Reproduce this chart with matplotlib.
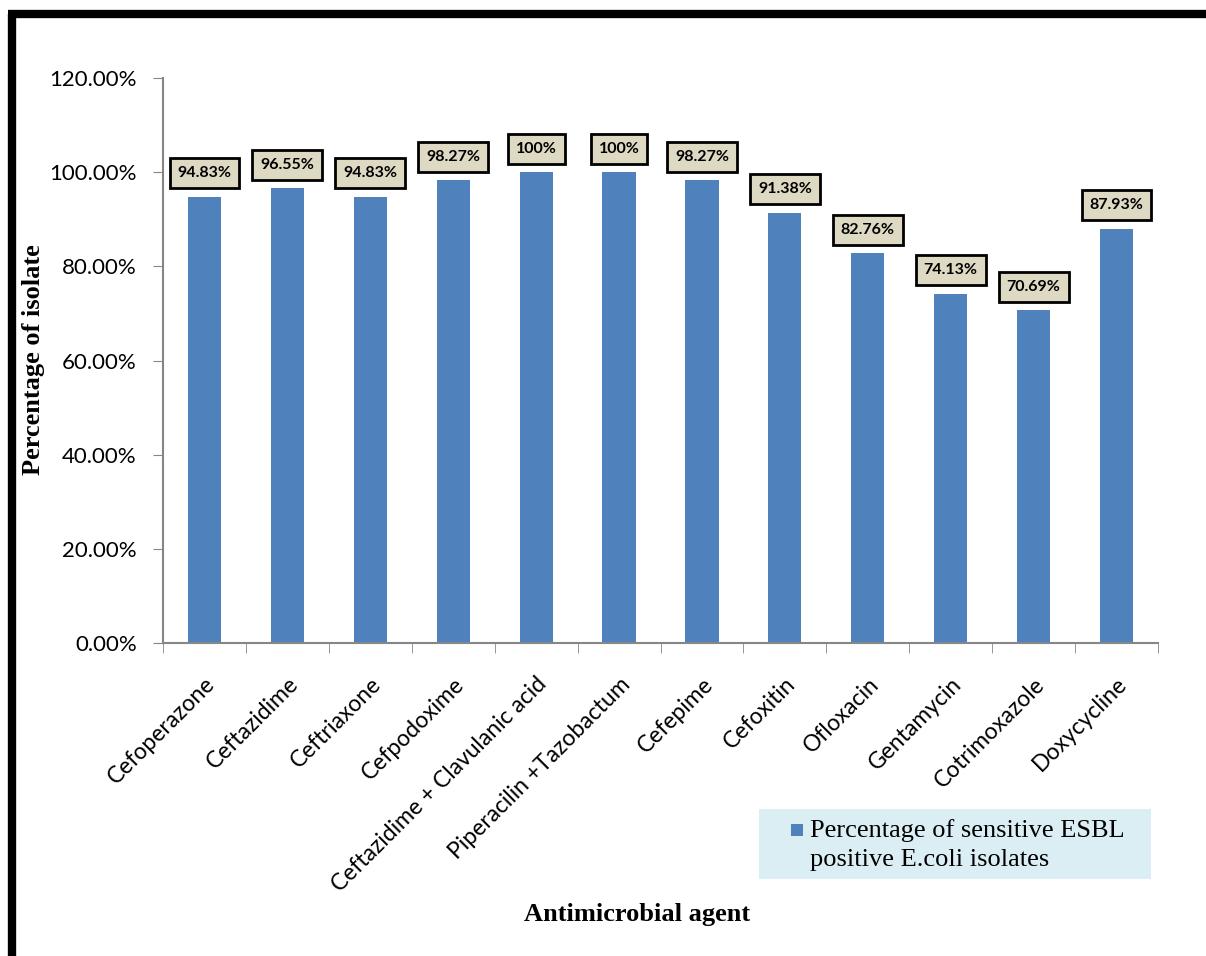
import matplotlib.pyplot as plt
from matplotlib.lines import Line2D
from matplotlib.patches import Rectangle
import numpy as np

agents = ["Cefoperazone", "Ceftazidime", "Ceftriaxone", "Cefpodoxime",
          "Ceftazidime + Clavulanic acid", "Piperacilin +Tazobactum",
          "Cefepime", "Cefoxitin", "Ofloxacin", "Gentamycin",
          "Cotrimoxazole", "Doxycycline"]
sensitive = [94.83, 96.55, 94.83, 98.27, 100, 100, 98.27, 91.38, 82.76, 74.13, 70.69, 87.93]
labels = ["94.83%", "96.55%", "94.83%", "98.27%", "100%", "100%",
          "98.27%", "91.38%", "82.76%", "74.13%", "70.69%", "87.93%"]
series_name = "Percentage of sensitive ESBL\npositive E.coli isolates"
bar_color = "#4F81BD"

fig = plt.figure(figsize=(12.06, 9.56), dpi=100)
ax = fig.add_axes([0.1352, 0.3274, 0.825, 0.591])

x = np.arange(len(agents))
ax.bar(x, sensitive, width=0.4, color=bar_color)

for xi, v, t in zip(x, sensitive, labels):
    ax.annotate(t, (xi, v), xytext=(0, 17), textcoords="offset points",
                ha="center", va="center", fontsize=11.5, fontweight="bold",
                family="Lato",
                bbox=dict(boxstyle="square,pad=0.5", fc="#DDD9C3", ec="black", lw=2))

ax.set_xlim(-0.5, len(agents) - 0.5)
ax.set_ylim(0, 120)
ax.set_yticks(np.arange(0, 121, 20))
ax.set_yticklabels([f"{v:.2f}%" for v in np.arange(0, 121, 20)],
                   fontsize=16, family="Lato")
ax.set_xticks(x)
ax.set_xticklabels(agents, rotation=45, ha="right", rotation_mode="anchor",
                   fontsize=16.5, family="Lato")
ax.set_xticks(np.arange(-0.5, len(agents)), minor=True)
ax.tick_params(axis="x", which="major", length=0, pad=22)
ax.tick_params(axis="x", which="minor", length=7, color="#868686", direction="out")
ax.tick_params(axis="y", length=7, color="#868686", direction="out", pad=12)

for s in ["top", "right"]:
    ax.spines[s].set_visible(False)
for s in ["left", "bottom"]:
    ax.spines[s].set_color("#868686")
    ax.spines[s].set_linewidth(1.5)

fig.text(0.028, 0.6235, "Percentage of isolate", rotation=90, ha="center", va="center",
         fontsize=19, fontweight="bold", family="Liberation Serif")
fig.text(0.528, 0.043, "Antimicrobial agent", ha="center", va="center",
         fontsize=19, fontweight="bold", family="Liberation Serif")

# legend box drawn by hand so the key sits beside the first line
fig.add_artist(Rectangle((0.6294, 0.0805), 0.325, 0.0732, transform=fig.transFigure,
                         fc="#DAEEF3", ec="none"))
fig.add_artist(Rectangle((0.6559, 0.1255), 0.0100, 0.0126, transform=fig.transFigure,
                         fc=bar_color, ec="none"))
fig.text(0.6716, 0.1160, series_name, ha="left", va="center", linespacing=1.4,
         fontsize=19, family="Liberation Serif")

# heavy frame on left and top
fig.add_artist(Line2D([0.01, 0.01], [0, 0.985], transform=fig.transFigure,
                      color="black", lw=6, solid_capstyle="butt"))
fig.add_artist(Line2D([0.0067, 1.0], [0.9856, 0.9856], transform=fig.transFigure,
                      color="black", lw=6, solid_capstyle="butt"))

fig.savefig("out.png", dpi=100)
